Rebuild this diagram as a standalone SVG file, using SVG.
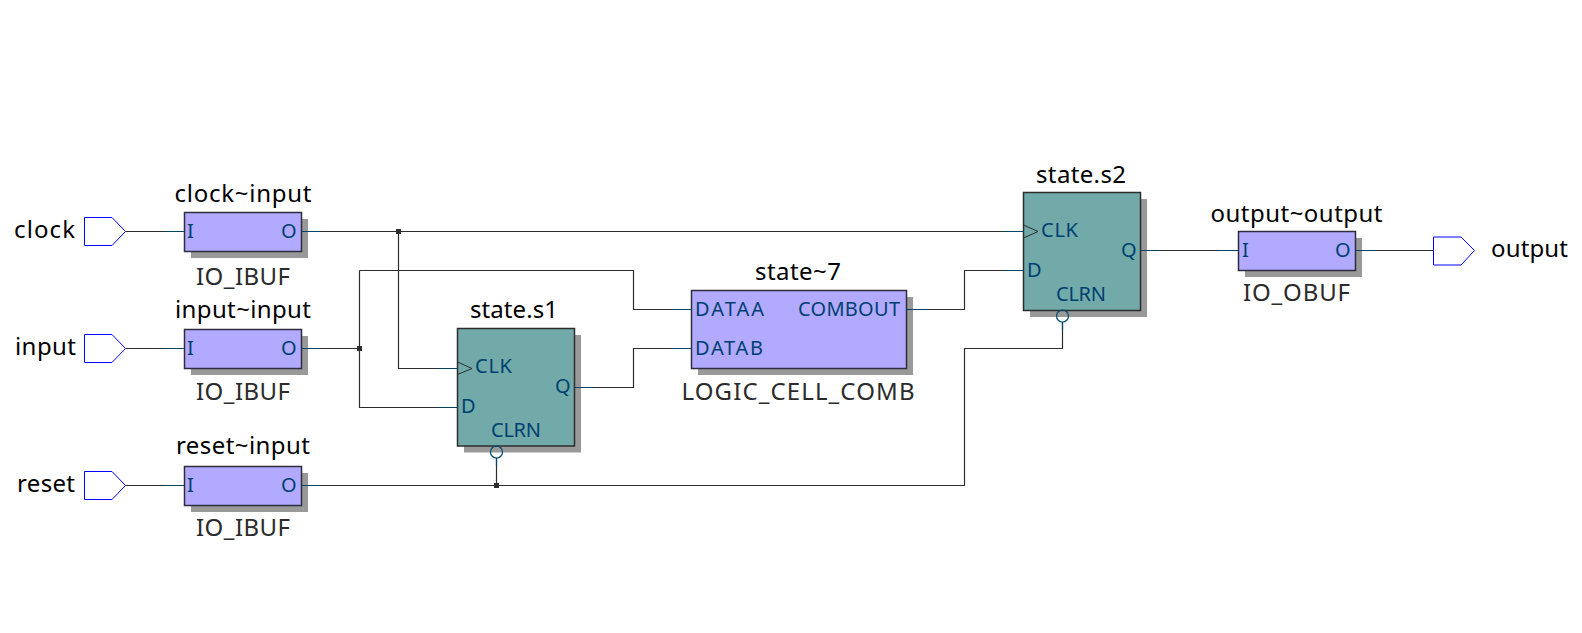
<svg xmlns="http://www.w3.org/2000/svg" width="1582" height="633" viewBox="0 0 1582 633">
<style>
text{font-family:"Noto Sans","Open Sans","DejaVu Sans",sans-serif}
.t{font-size:24px;fill:#000;text-anchor:middle}
.k{font-size:24px;fill:#2b2b2b;text-anchor:middle}
.n{font-size:24px;fill:#000}
.p{font-size:20px;fill:#004070}
.b{fill:#b2aaff;stroke:#2d2d3d;stroke-width:1.5}
.f{fill:#72aaaa;stroke:#2d2d2d;stroke-width:1.5}
.s{fill:#999}
.w{fill:none;stroke:#2d2d2d;stroke-width:1.2}
.u{fill:none;stroke:#004468;stroke-width:1.2}
.o{fill:#fff;stroke:#0000ff;stroke-width:1}
.c{fill:none;stroke:#2d2d2d;stroke-width:1}
.i{fill:none;stroke:#004b70;stroke-width:1.2}
.j{fill:#2d2d2d}
</style>
<g id="clock"><path class="o" d="M84.500 217.500H112L125.500 231.500L112 245.500H84.500Z"/><text class="n" x="14" y="238" textLength="61">clock</text></g>
<g id="input"><path class="o" d="M84.500 334.500H112L125.500 348.500L112 362.500H84.500Z"/><text class="n" x="15" y="355" textLength="61">input</text></g>
<g id="reset"><path class="o" d="M84.500 471.500H112L125.500 485.500L112 499.500H84.500Z"/><text class="n" x="17" y="492" textLength="58">reset</text></g>
<g id="output"><path class="o" d="M1433.500 237H1461L1474.500 250.500L1461 265H1433.500Z"/><text class="n" x="1491" y="257" textLength="77">output</text></g>
<g id="clock_input"><rect class="s" x="191" y="219" width="117" height="39"/><rect class="b" x="184.500" y="212.500" width="117" height="39"/><text class="p" x="187" y="238">I</text><text class="p" x="281" y="238">O</text><text class="t" x="243" y="202" textLength="137">clock~input</text><text class="k" x="243" y="285" textLength="94">IO_IBUF</text></g>
<g id="input_input"><rect class="s" x="191" y="336" width="117" height="39"/><rect class="b" x="184.500" y="329.500" width="117" height="39"/><text class="p" x="187" y="355">I</text><text class="p" x="281" y="355">O</text><text class="t" x="243" y="318" textLength="136">input~input</text><text class="k" x="243" y="400" textLength="94">IO_IBUF</text></g>
<g id="reset_input"><rect class="s" x="191" y="473" width="117" height="39"/><rect class="b" x="184.500" y="466.500" width="117" height="39"/><text class="p" x="187" y="492">I</text><text class="p" x="281" y="492">O</text><text class="t" x="243" y="454" textLength="134">reset~input</text><text class="k" x="243" y="536" textLength="94">IO_IBUF</text></g>
<g id="state_s1"><rect class="s" x="464" y="335" width="117" height="117.500"/><rect class="f" x="457.500" y="328.500" width="117" height="117.500"/><path class="c" d="M457.500 362L472 368.500L457.500 374.500"/><circle class="i" cx="496.500" cy="452" r="6"/><text class="p" x="475" y="373" textLength="37">CLK</text><text class="p" x="461" y="413">D</text><text class="p" x="555" y="393">Q</text><text class="p" x="491" y="437" textLength="50">CLRN</text><text class="t" x="514" y="318" textLength="88">state.s1</text></g>
<g id="state_7"><rect class="s" x="698" y="297" width="215" height="78"/><rect class="b" x="691.500" y="290.500" width="215" height="78"/><text class="p" x="695" y="316" textLength="69">DATAA</text><text class="p" x="798" y="316" textLength="102">COMBOUT</text><text class="p" x="695" y="355" textLength="68">DATAB</text><text class="t" x="798" y="280" textLength="86">state~7</text><text class="k" x="798" y="400" textLength="233">LOGIC_CELL_COMB</text></g>
<g id="state_s2"><rect class="s" x="1030" y="199" width="117" height="118"/><rect class="f" x="1023.500" y="192.500" width="117" height="118"/><path class="c" d="M1023.500 225L1038 231.500L1023.500 238"/><circle class="i" cx="1062.500" cy="316" r="6"/><text class="p" x="1041" y="237" textLength="37">CLK</text><text class="p" x="1027" y="277">D</text><text class="p" x="1121" y="257">Q</text><text class="p" x="1056" y="301" textLength="50">CLRN</text><text class="t" x="1081" y="183" textLength="90">state.s2</text></g>
<g id="output_output"><rect class="s" x="1245" y="238" width="117" height="39"/><rect class="b" x="1238.500" y="231.500" width="117" height="39"/><text class="p" x="1242" y="257">I</text><text class="p" x="1335" y="257">O</text><text class="t" x="1296.500" y="222" textLength="172">output~output</text><text class="k" x="1296.500" y="301" textLength="107">IO_OBUF</text></g>
<g id="connectors">
<path class="w" d="M125.500 231.500H184.500M301.500 231.500H1023.500M398.500 231.500V368.500H457.500"/>
<path class="w" d="M125.500 348.500H184.500M301.500 348.500H359.500M359.500 270.500H633.500V309.500H691.500M359.500 270.500V407.500H457.500"/>
<path class="w" d="M125.500 485.500H184.500M301.500 485.500H964.500V348.500H1062.500V322M496.500 485.500V458"/>
<path class="w" d="M574.500 387.500H633.500V348.500H691.500M906.500 309.500H964.500V270.500H1023.500M1140.500 250.500H1238.500M1355.500 250.500H1433.500"/>
<path class="u" d="M164.500 231.500H184.500M301.500 231.500H320.500M164.500 348.500H184.500M301.500 348.500H320.500M164.500 485.500H184.500M301.500 485.500H320.500M437.500 368.500H457.500M437.500 407.500H457.500M574.500 387.500H594.500M671.500 309.500H691.500M671.500 348.500H691.500M906.500 309.500H926.500M1003.500 231.500H1023.500M1003.500 270.500H1023.500M1140.500 250.500H1160.500M1218.500 250.500H1238.500M1355.500 250.500H1375.500M496.500 458V466M1062.500 322V330"/>
<rect class="j" x="396" y="229" width="5" height="5"/>
<rect class="j" x="357" y="346" width="5" height="5"/>
<rect class="j" x="494" y="483" width="5" height="5"/>
</g>
</svg>
